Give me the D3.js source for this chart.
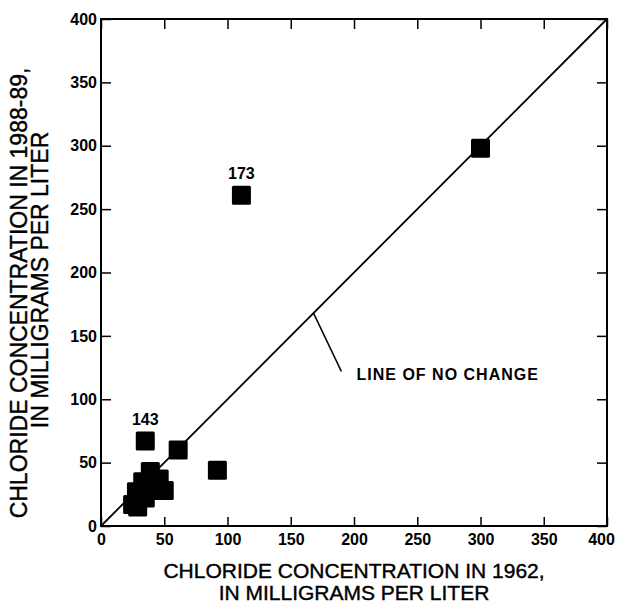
<!DOCTYPE html>
<html>
<head>
<meta charset="utf-8">
<script src="https://cdn.jsdelivr.net/npm/d3@7"></script>
<style>
  body { margin: 0; background: #fff; }
  svg text { font-family: "Liberation Sans", Arial, sans-serif; fill: #000; }
</style>
</head>
<body>
<script>
// chloride 1962 vs 1988-89, mg/L
var x1962 = [25, 29, 28, 33, 35, 39, 38, 44, 46, 50, 35, 61, 92, 111, 300];
var y1988 = [17, 15, 27, 35, 22, 43, 30, 28, 37, 28, 67, 60, 44, 261, 298];
var wellIds = ["", "", "", "", "", "", "", "", "", "", "143", "", "", "173", ""];

var tickValues = [0, 50, 100, 150, 200, 250, 300, 350, 400];
var noChange = [0, 400];
var noteFrom = [168, 168], noteTo = [190, 122], notePos = [202, 120];
var noteText = "LINE OF NO CHANGE";

var width = 618,
    height = 604;
var margin = {top: 19, right: 11, bottom: 78, left: 101};

var svg = d3.select("body").append("svg")
    .attr("width", width)
    .attr("height", height);

var x = d3.scaleLinear().domain([0, 400]).range([margin.left, width - margin.right]);
var y = d3.scaleLinear().domain([0, 400]).range([height - margin.bottom, margin.top]);

// inward ticks on all four sides
svg.append("g")
    .attr("transform", "translate(0," + y(0) + ")")
    .call(d3.axisBottom(x).tickValues(tickValues).tickSize(-9).tickPadding(8))
    .call(function(g) {
        g.select(".domain").remove();
        g.selectAll("text").attr("font-size", 16).attr("font-weight", "bold");
        // last label sits a little left of the corner so it stays in the page
        g.selectAll("text").filter(function(d) { return d === 400; }).attr("dx", -6);
    });

svg.append("g")
    .attr("transform", "translate(" + x(0) + ",0)")
    .call(d3.axisLeft(y).tickValues(tickValues).tickSize(-10).tickPadding(4))
    .call(function(g) {
        g.select(".domain").remove();
        g.selectAll("text").attr("font-size", 16).attr("font-weight", "bold");
    });

svg.append("g")
    .attr("transform", "translate(0," + y(400) + ")")
    .call(d3.axisTop(x).tickValues(tickValues).tickSize(-10).tickFormat(""))
    .call(function(g) { g.select(".domain").remove(); });

svg.append("g")
    .attr("transform", "translate(" + x(400) + ",0)")
    .call(d3.axisRight(y).tickValues(tickValues).tickSize(-10).tickFormat(""))
    .call(function(g) { g.select(".domain").remove(); });

svg.selectAll(".tick line").attr("stroke", "#000").attr("stroke-width", 1.5);

svg.append("rect")
    .attr("x", x(0))
    .attr("y", y(400))
    .attr("width", x(400) - x(0))
    .attr("height", y(0) - y(400))
    .attr("fill", "none")
    .attr("stroke", "#000")
    .attr("stroke-width", 2);

// line of no change
svg.append("line")
    .attr("x1", x(noChange[0])).attr("y1", y(noChange[0]))
    .attr("x2", x(noChange[1])).attr("y2", y(noChange[1]))
    .attr("stroke", "#000")
    .attr("stroke-width", 1.8);

svg.append("line")
    .attr("x1", x(noteFrom[0])).attr("y1", y(noteFrom[1]))
    .attr("x2", x(noteTo[0])).attr("y2", y(noteTo[1]))
    .attr("stroke", "#000")
    .attr("stroke-width", 1.5);

svg.append("text")
    .attr("x", x(notePos[0]))
    .attr("y", y(notePos[1]))
    .attr("dy", "0.35em")
    .attr("font-size", 16)
    .attr("font-weight", "bold")
    .attr("letter-spacing", 1)
    .text(noteText);

// points
var sq = 19;
var pts = x1962.map(function(d, i) { return {x: d, y: y1988[i], id: wellIds[i]}; });

svg.append("g").selectAll("rect")
    .data(pts)
    .enter().append("rect")
    .attr("x", function(d) { return x(d.x) - sq / 2; })
    .attr("y", function(d) { return y(d.y) - sq / 2; })
    .attr("width", sq)
    .attr("height", sq)
    .attr("rx", 1.5)
    .attr("fill", "#000");

svg.append("g").selectAll("text")
    .data(pts.filter(function(d) { return d.id; }))
    .enter().append("text")
    .attr("x", function(d) { return x(d.x); })
    .attr("y", function(d) { return y(d.y) - 22; })
    .attr("dy", "0.35em")
    .attr("text-anchor", "middle")
    .attr("font-size", 16)
    .attr("font-weight", "bold")
    .text(function(d) { return d.id; });

// axis titles
var xTitle = svg.append("text")
    .attr("text-anchor", "middle")
    .attr("font-size", 21)
    .attr("stroke", "#000")
    .attr("stroke-width", 0.4);
xTitle.append("tspan").attr("x", (x(0) + x(400)) / 2).attr("y", 578).text("CHLORIDE CONCENTRATION IN 1962,");
xTitle.append("tspan").attr("x", (x(0) + x(400)) / 2).attr("y", 600).text("IN MILLIGRAMS PER LITER");

var yTitle = svg.append("text")
    .attr("transform", "rotate(-90)")
    .attr("text-anchor", "middle")
    .attr("font-size", 23)
    .attr("stroke", "#000")
    .attr("stroke-width", 0.4);
yTitle.append("tspan").attr("x", -293).attr("y", 27).text("CHLORIDE CONCENTRATION IN 1988-89,");
yTitle.append("tspan").attr("x", -280).attr("y", 48).text("IN MILLIGRAMS PER LITER");
</script>
</body>
</html>
